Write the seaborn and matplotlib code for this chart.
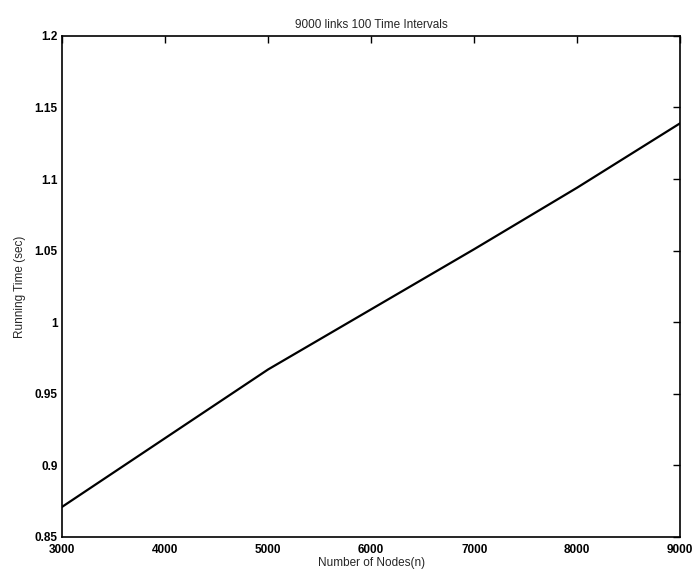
import matplotlib
matplotlib.use("Agg")
import matplotlib.pyplot as plt
import seaborn as sns
import pandas as pd

# values
nodes = [3000, 4000, 5000, 6000, 7000, 8000, 9000]
running_time = [0.871, 0.919, 0.967, 1.009, 1.051, 1.094, 1.139]

x_ticks = [3000, 4000, 5000, 6000, 7000, 8000, 9000]
y_ticks = [0.85, 0.9, 0.95, 1.0, 1.05, 1.1, 1.15, 1.2]
y_tick_labels = ["0.85", "0.9", "0.95", "1", "1.05", "1.1", "1.15", "1.2"]

sns.set_style("white")
plt.rcParams['font.family'] = ['Liberation Sans', 'DejaVu Sans']

df = pd.DataFrame({"n": nodes, "t": running_time})

fig = plt.figure(figsize=(6.97, 5.78), dpi=100)
ax = fig.add_axes([0.089, 0.071, 0.887, 0.867])

sns.lineplot(data=df, x="n", y="t", ax=ax, color="black", linewidth=1.6)

ax.set_xlim(3000, 9000)
ax.set_ylim(0.85, 1.2)
ax.set_xticks(x_ticks)
ax.set_yticks(y_ticks)
ax.set_yticklabels(y_tick_labels)

ax.tick_params(direction="in", length=5, width=1, top=True, right=True,
               labelsize=8.5, colors="black")
ax.tick_params(axis="x", pad=5)
ax.tick_params(axis="y", pad=3)
for lab in ax.get_xticklabels() + ax.get_yticklabels():
    lab.set_fontweight("bold")
for s in ax.spines.values():
    s.set_color("black")
    s.set_linewidth(1.2)

ax.set_xlabel("Number of Nodes(n)", fontsize=8.5, labelpad=1)
ax.set_ylabel("Running Time (sec)", fontsize=8.5, labelpad=6)
ax.set_title("9000 links 100 Time Intervals", fontsize=8.5, pad=6)

fig.savefig("out.png", dpi=100)
